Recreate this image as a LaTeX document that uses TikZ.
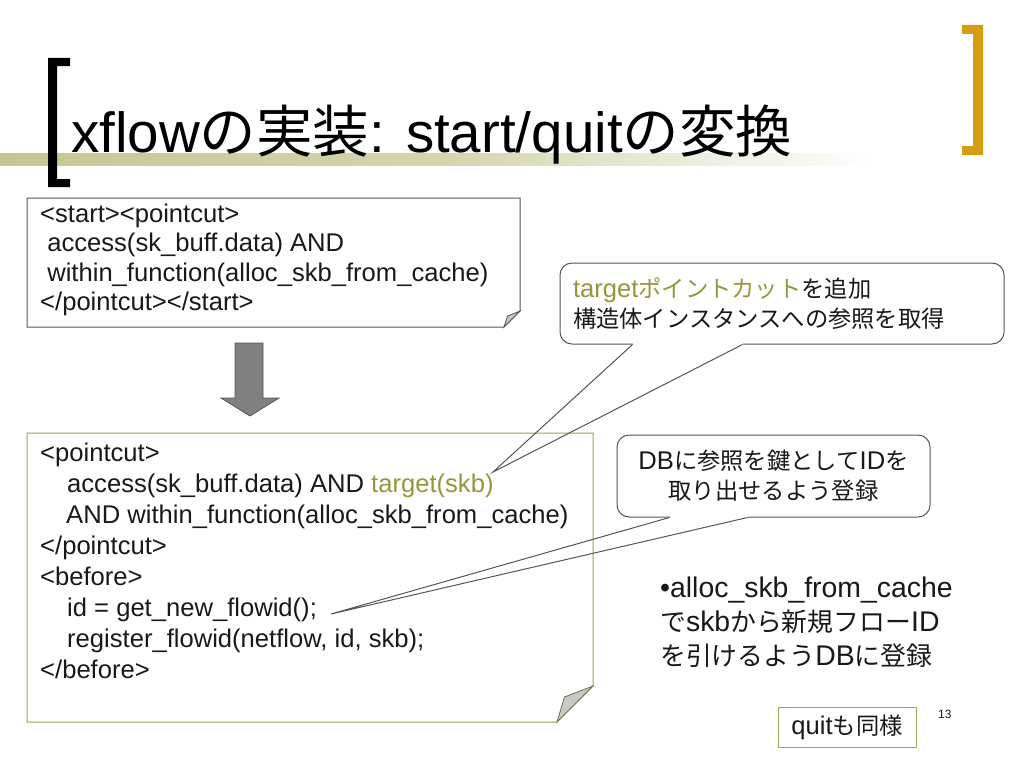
\documentclass[tikz,border=0pt]{standalone}
\usepackage{fontspec}
\setmainfont{Liberation Sans}
\newfontfamily\jpfont[Scale=0.91]{Noto Sans CJK JP}
\newfontfamily\jptitlefont{Noto Sans CJK JP}
\newcommand{\J}[1]{{\jpfont #1}}
\newcommand{\JT}[1]{{\jptitlefont #1}}
\definecolor{olivebar}{RGB}{198,198,148}
\definecolor{goldbr}{RGB}{212,158,20}
\definecolor{olivetext}{RGB}{150,150,60}
\definecolor{oliveline}{RGB}{160,160,95}
\definecolor{txt}{RGB}{25,25,25}
\definecolor{boxline}{RGB}{85,85,85}
\definecolor{arrowfill}{RGB}{128,128,128}
\definecolor{flapfill}{RGB}{200,200,200}
\begin{document}
\begin{tikzpicture}[x=1pt,y=-1pt,
  codetext/.style={anchor=base west, inner sep=0pt, font=\fontsize{25.6}{30}\selectfont, text=txt},
  bullettext/.style={anchor=base west, inner sep=0pt, font=\fontsize{28.4}{34}\selectfont, text=txt},
  callout/.style={draw=boxline, line width=1pt, rounded corners=12pt, inner xsep=13pt, inner ysep=0pt,
                  font=\fontsize{25.6}{30}\selectfont, text=txt},
  placebox/.style={inner sep=0pt, outer sep=0pt}
]
\useasboundingbox (0,0) rectangle (1024,768);
\fill[white] (0,0) rectangle (1024,768);

% title bar and brackets
\shade[left color=olivebar, right color=white, middle color=olivebar!75!white] (0,153) rectangle (880,165);
\fill[black] (48,58) -- (70,58) -- (70,66) -- (57,66) -- (57,179) -- (70,179) -- (70,187) -- (48,187) -- cycle;
\fill[goldbr] (962,25) -- (983,25) -- (983,155) -- (962,155) -- (962,146) -- (973,146) -- (973,34) -- (962,34) -- cycle;
\node[anchor=base west, inner sep=0pt, font=\fontsize{56.5}{60}\selectfont, text=black] (title) at (71,152)
  {xflow\JT{の実装}: start/quit\JT{の変換}};

% top code box
\node[placebox, minimum width=493pt, minimum height=129pt] (box1) at (273.5,262.5) {};
\draw[boxline, line width=1pt, fill=white] (box1.north west) -- (box1.north east) -- ([yshift=16pt]box1.south east)
  -- ([xshift=-16pt]box1.south east) -- (box1.south west) -- cycle;
\filldraw[fill=flapfill, draw=boxline, line width=0.8pt] ([yshift=16pt]box1.south east) -- ([xshift=-12.5pt,yshift=11pt]box1.south east)
  -- ([xshift=-16pt]box1.south east) -- cycle;
\node[codetext] (a1) at (40,222) {<start><pointcut>};
\node[codetext] (a2) at (40,251.5) {\ access(sk\_buff.data) AND};
\node[codetext] (a3) at (40,281) {\ within\_function(alloc\_skb\_from\_cache)};
\node[codetext] (a4) at (40,310) {</pointcut></start>};

% block arrow
\filldraw[fill=arrowfill, draw=boxline, line width=0.8pt] (235,343) -- (263,343) -- (263,398) -- (279,398) -- (250,416)
  -- (221,398) -- (235,398) -- cycle;

% bottom code box
\node[placebox, minimum width=566pt, minimum height=289pt] (box2) at (310,577.5) {};
\draw[oliveline, line width=1pt, fill=white] (box2.north west) -- (box2.north east) -- ([yshift=36pt]box2.south east)
  -- ([xshift=-36pt]box2.south east) -- (box2.south west) -- cycle;
\filldraw[fill=flapfill, draw=oliveline!70!black, line width=0.8pt] ([yshift=36pt]box2.south east) -- ([xshift=-28.5pt,yshift=25pt]box2.south east)
  -- ([xshift=-36pt]box2.south east) -- cycle;
\node[codetext] (b1) at (40,461) {<pointcut>};
\node[codetext] (b2) at (67,492) {access(sk\_buff.data) AND \textcolor{olivetext}{target(skb)}};
\node[codetext] (b3) at (66,523) {AND within\_function(alloc\_skb\_from\_cache)};
\node[codetext] (b4) at (40,554) {</pointcut>};
\node[codetext] (b5) at (40,585) {<before>};
\node[codetext] (b6) at (67,616) {id = get\_new\_flowid();};
\node[codetext] (b7) at (67,647) {register\_flowid(netflow, id, skb);};
\node[codetext] (b8) at (40,678) {</before>};

% callout 1
\node[callout, minimum width=444pt, minimum height=81pt, text width=418pt, align=left] (c1) at (782,303.5)
  {\textcolor{olivetext}{target\J{ポイントカット}}\J{を追加}\\\J{構造体インスタンスへの参照を取得}};
\coordinate (c1a) at ([xshift=73pt]c1.south west);
\coordinate (c1b) at ([xshift=183pt]c1.south west);
\coordinate (t1) at (493,472);
\draw[white, line width=2.2pt] (c1a) -- (c1b);
\draw[boxline, line width=1pt] (c1a) -- (t1) -- (c1b);

% callout 2
\node[callout, minimum width=313pt, minimum height=82pt, text width=287pt, align=center] (c2) at (773.5,476)
  {DB\J{に参照を鍵として}ID\J{を}\\\J{取り出せるよう登録}};
\coordinate (c2a) at ([xshift=53pt]c2.south west);
\coordinate (c2b) at ([xshift=131pt]c2.south west);
\coordinate (t2) at (331,614);
\draw[white, line width=2.2pt] (c2a) -- (c2b);
\draw[boxline, line width=1pt] (c2a) -- (t2) -- (c2b);

% bullet text
\node[bullettext] (d1) at (660,597) {•alloc\_skb\_from\_cache};
\node[bullettext] (d2) at (660,631) {\J{で}skb\J{から新規フロー}ID};
\node[bullettext] (d3) at (660,665) {\J{を引けるよう}DB\J{に登録}};

% quit box and page number
\node[draw=oliveline, line width=1pt, minimum width=138pt, minimum height=40pt, inner sep=0pt,
      font=\fontsize{25.6}{30}\selectfont, text=txt] (quit) at (847,727) {quit\J{も同様}};
\node[anchor=base west, inner sep=0pt, font=\fontsize{12}{14}\selectfont, text=txt] (pg) at (938,718) {13};
\end{tikzpicture}
\end{document}
